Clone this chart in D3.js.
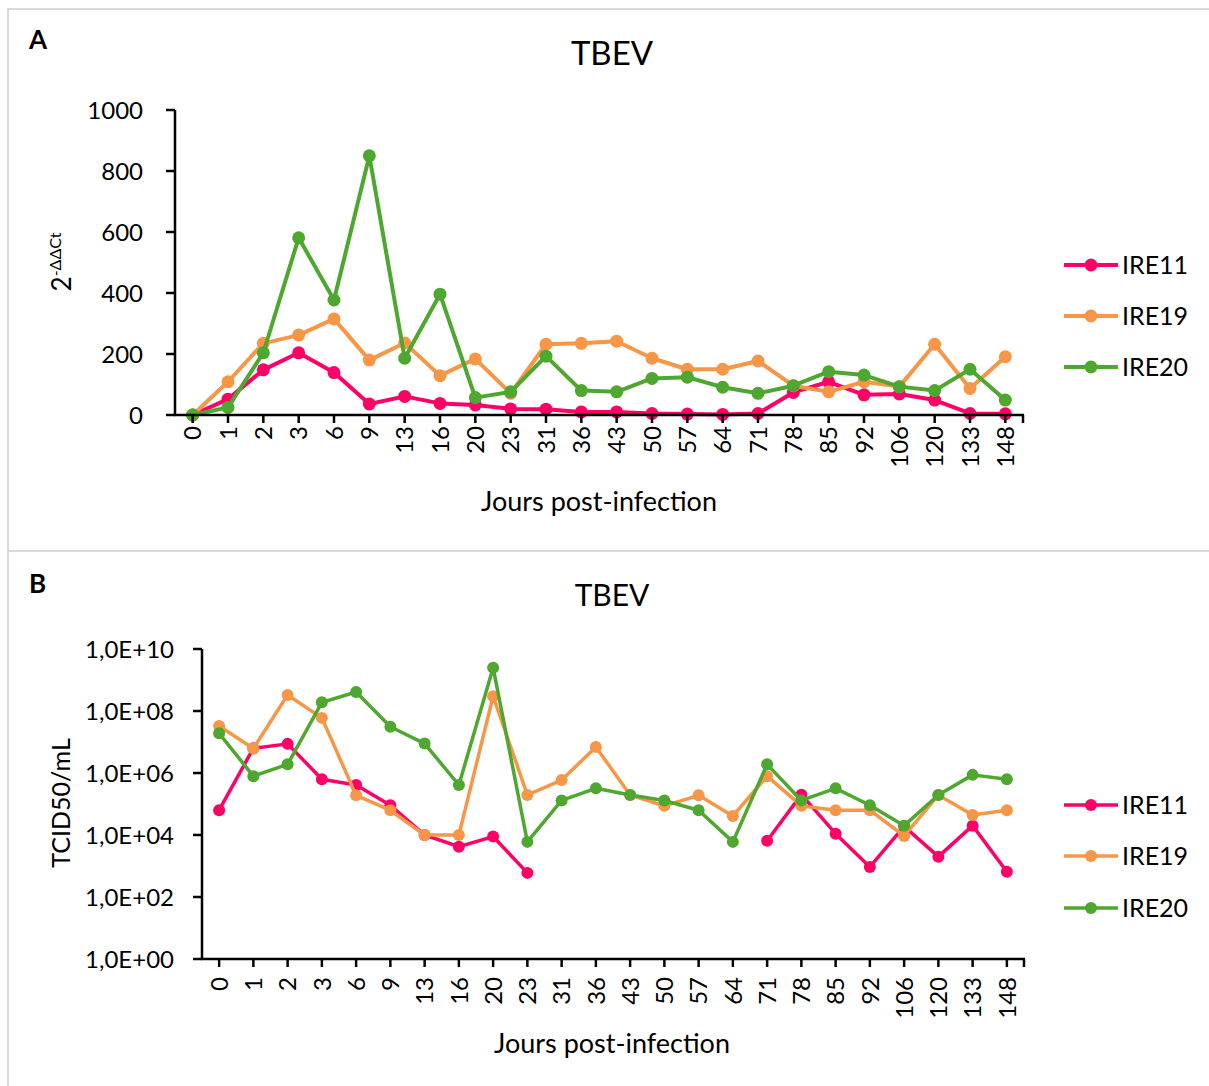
<!DOCTYPE html>
<html>
<head>
<meta charset="utf-8">
<script src="https://cdn.jsdelivr.net/npm/d3@7"></script>
<style>
  body { margin: 0; background: #fff; }
  svg text { font-family: Lato, "Open Sans", sans-serif; fill: #000; }
</style>
</head>
<body>
<script>
// categories (days post infection)
const days = ["0","1","2","3","6","9","13","16","20","23","31","36","43","50","57","64","71","78","85","92","106","120","133","148"];
const seriesNames = ["IRE11","IRE19","IRE20"];
const colors = ["#FF0066","#F79646","#4EA72E"];

// panel A : 2^-ddCt
const a_ire11 = [0,52,148,204,139,36,61,38,33,20,19,10,10,5,3,2,5,74,109,66,69,49,5,4];
const a_ire19 = [0,109,235,262,315,180,236,129,184,71,232,235,242,186,150,150,177,96,76,109,93,232,87,191];
const a_ire20 = [0,25,204,581,377,850,186,396,57,76,193,80,76,120,124,91,71,96,142,131,93,80,150,49];
const a_ticks = [0,200,400,600,800,1000];

// panel B : TCID50/mL (null = no value)
const b_ire11 = [6.3e4,6.3e6,8.7e6,6.3e5,4.1e5,9.1e4,1e4,4.2e3,8.9e3,6e2,null,null,null,null,null,null,6.5e3,2e5,1.1e4,9.3e2,1.9e4,2e3,2e4,6.5e2];
const b_ire19 = [3.3e7,6.2e6,3.3e8,6e7,1.9e5,6.3e4,1e4,1e4,3e8,1.95e5,5.9e5,6.9e6,1.95e5,8.7e4,1.9e5,4.1e4,7.9e5,8.7e4,6.3e4,6.3e4,9.3e3,1.95e5,4.4e4,6.3e4];
const b_ire20 = [1.9e7,7.9e5,1.9e6,1.9e8,4.1e8,3.1e7,8.9e6,4.1e5,2.5e9,6e3,1.3e5,3.2e5,1.95e5,1.3e5,6.3e4,6e3,1.9e6,1.3e5,3.2e5,9.1e4,2e4,1.95e5,8.7e5,6.3e5];
const b_ticks = [1e0,1e2,1e4,1e6,1e8,1e10];

const width = 1209, height = 1086;

const svg = d3.select("body").append("svg")
    .attr("width", width)
    .attr("height", height);

// panel frames
svg.append("rect")
    .attr("x", 8).attr("y", 9)
    .attr("width", 1240).attr("height", 1100)
    .attr("fill", "none")
    .attr("stroke", "#d9d9d9")
    .attr("stroke-width", 2);
svg.append("line")
    .attr("x1", 8).attr("x2", width)
    .attr("y1", 551).attr("y2", 551)
    .attr("stroke", "#d9d9d9")
    .attr("stroke-width", 2);

function fmtSci(v) {
    const e = Math.round(Math.log10(v));
    return "1,0E+" + (e < 10 ? "0" + e : e);
}

function drawPanel(p) {

    const g = svg.append("g");

    const x = d3.scalePoint()
        .domain(days)
        .range([p.left, p.right])
        .padding(0.5);

    const y = p.y;

    // lines
    p.series.forEach(function(vals, i) {
        const pts = days.map(function(d, j) { return { d: d, v: vals[j] }; });
        const line = d3.line()
            .defined(function(o) { return o.v !== null; })
            .x(function(o) { return x(o.d); })
            .y(function(o) { return y(o.v); });

        g.append("path")
            .datum(pts)
            .attr("d", line)
            .attr("fill", "none")
            .attr("stroke", colors[i])
            .attr("stroke-width", p.lineWidth)
            .attr("stroke-linejoin", "round");

        g.selectAll(".pt" + i)
            .data(pts.filter(function(o) { return o.v !== null; }))
            .enter().append("circle")
            .attr("cx", function(o) { return x(o.d); })
            .attr("cy", function(o) { return y(o.v); })
            .attr("r", p.markerR)
            .attr("fill", colors[i]);
    });

    // y axis
    g.append("line")
        .attr("x1", p.left).attr("x2", p.left)
        .attr("y1", y.range()[1]).attr("y2", y.range()[0])
        .attr("stroke", "#000").attr("stroke-width", 2.5);

    g.selectAll(".ytick")
        .data(p.yTicks)
        .enter().append("line")
        .attr("x1", p.left - 9).attr("x2", p.left)
        .attr("y1", function(d) { return y(d); })
        .attr("y2", function(d) { return y(d); })
        .attr("stroke", "#000").attr("stroke-width", 2.5);

    g.selectAll(".ylab")
        .data(p.yTicks)
        .enter().append("text")
        .attr("x", p.yLabelRight)
        .attr("y", function(d) { return y(d); })
        .attr("dy", "0.36em")
        .attr("text-anchor", "end")
        .style("font-size", "24px")
        .text(p.yFormat);

    // x axis
    const y0 = y.range()[0];
    g.append("line")
        .attr("x1", p.left - 1).attr("x2", p.right + 1)
        .attr("y1", y0).attr("y2", y0)
        .attr("stroke", "#000").attr("stroke-width", 2.5);

    g.selectAll(".xtick")
        .data(days.map(function(d) { return x(d); }).concat([p.right]))
        .enter().append("line")
        .attr("x1", function(d) { return d; })
        .attr("x2", function(d) { return d; })
        .attr("y1", y0).attr("y2", y0 + 8)
        .attr("stroke", "#000").attr("stroke-width", 2.5);

    g.selectAll(".xlab")
        .data(days)
        .enter().append("text")
        .attr("transform", function(d) { return "translate(" + x(d) + "," + p.xLabelTop + ") rotate(-90)"; })
        .attr("dy", "0.36em")
        .attr("text-anchor", "end")
        .style("font-size", "24px")
        .text(function(d) { return d; });

    // axis title
    g.append("text")
        .attr("x", p.xTitleX)
        .attr("y", p.xTitleY)
        .attr("text-anchor", "middle")
        .style("font-size", "27px")
        .text("Jours post-infection");

    // chart title
    g.append("text")
        .attr("x", 612)
        .attr("y", p.titleY)
        .attr("text-anchor", "middle")
        .style("font-size", p.titleSize + "px")
        .text("TBEV");

    // panel letter
    g.append("text")
        .attr("x", 29)
        .attr("y", p.letterY)
        .style("font-size", "26px")
        .style("font-weight", "bold")
        .text(p.letter);

    // legend
    p.legendY.forEach(function(ly, i) {
        g.append("line")
            .attr("x1", 1064).attr("x2", 1118)
            .attr("y1", ly).attr("y2", ly)
            .attr("stroke", colors[i])
            .attr("stroke-width", p.lineWidth);
        g.append("circle")
            .attr("cx", 1091).attr("cy", ly)
            .attr("r", p.markerR)
            .attr("fill", colors[i]);
        g.append("text")
            .attr("x", 1122).attr("y", ly)
            .attr("dy", "0.36em")
            .style("font-size", "25px")
            .text(seriesNames[i]);
    });

    return g;
}

// panel A
const gA = drawPanel({
    letter: "A", letterY: 49,
    titleY: 65, titleSize: 33,
    left: 175, right: 1023,
    y: d3.scaleLinear().domain([0, 1000]).range([415, 110]),
    yTicks: a_ticks,
    yFormat: function(d) { return d; },
    yLabelRight: 143,
    series: [a_ire11, a_ire19, a_ire20],
    lineWidth: 4, markerR: 6.5,
    xLabelTop: 426,
    xTitleX: 599, xTitleY: 511,
    legendY: [265, 316, 367]
});

const yLabA = gA.append("text")
    .attr("transform", "translate(71,262) rotate(-90)")
    .attr("text-anchor", "middle")
    .style("font-size", "26px");
yLabA.append("tspan").text("2");
yLabA.append("tspan")
    .attr("dy", "-0.6em")
    .style("font-size", "16px")
    .text("-ΔΔCt");

// panel B
const gB = drawPanel({
    letter: "B", letterY: 593,
    titleY: 606, titleSize: 30,
    left: 202, right: 1024,
    y: d3.scaleLog().domain([1, 1e10]).range([959, 649]),
    yTicks: b_ticks,
    yFormat: fmtSci,
    yLabelRight: 174,
    series: [b_ire11, b_ire19, b_ire20],
    lineWidth: 3.5, markerR: 6,
    xLabelTop: 977,
    xTitleX: 612, xTitleY: 1053,
    legendY: [805, 856, 908]
});

gB.append("text")
    .attr("transform", "translate(70,803) rotate(-90)")
    .attr("text-anchor", "middle")
    .style("font-size", "25px")
    .text("TCID50/mL");
</script>
</body>
</html>
